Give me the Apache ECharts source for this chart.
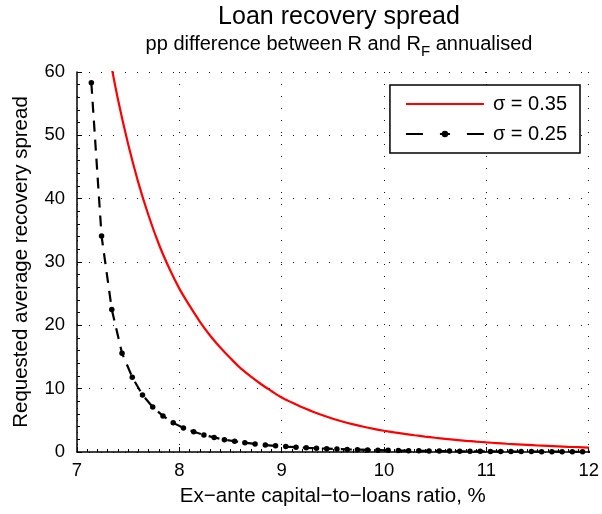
<!DOCTYPE html>
<html>
<head>
<meta charset="utf-8">
<script src="https://cdn.jsdelivr.net/npm/echarts@6/dist/echarts.min.js"></script>
<style>html,body{margin:0;padding:0;background:#fff}#c{width:602px;height:514px}</style>
</head>
<body>
<div id="c"></div>
<script>
var titleText = 'Loan recovery spread';
var subtitleText = 'pp difference between R and R{sub|F} annualised';
var xAxisName = 'Ex\u2212ante capital\u2212to\u2212loans ratio, %';
var yAxisName = 'Requested average recovery spread';
var seriesNames = ['\u03c3 = 0.35', '\u03c3 = 0.25'];
var xTicks = [7, 8, 9, 10, 11, 12];
var yTicks = [0, 10, 20, 30, 40, 50, 60];

var redX = [7.3,7.4,7.5,7.6,7.7,7.8,7.9,8.0,8.1,8.2,8.3,8.4,8.5,8.6,8.7,8.8,8.9,9.0,9.1,9.2,9.3,9.4,9.5,9.6,9.7,9.8,9.9,10.0,10.1,10.2,10.3,10.4,10.5,10.6,10.7,10.8,10.9,11.0,11.1,11.2,11.3,11.4,11.5,11.6,11.7,11.8,11.9,12.0];
var redY = [64.0,55.7,48.6,42.5,37.3,32.8,29.05,25.8,23.1,20.6,18.4,16.5,14.8,13.2,11.9,10.7,9.63,8.6,7.8,7.05,6.4,5.8,5.26,4.78,4.36,3.98,3.65,3.36,3.10,2.86,2.64,2.43,2.25,2.08,1.92,1.77,1.64,1.52,1.41,1.30,1.21,1.12,1.03,0.96,0.89,0.82,0.76,0.70];

var blackX = [7.14,7.24,7.34,7.44,7.54,7.64,7.74,7.84,7.94,8.04,8.14,8.24,8.34,8.44,8.54,8.64,8.74,8.84,8.94,9.04,9.14,9.24,9.34,9.44,9.54,9.64,9.74,9.84,9.94,10.04,10.14,10.24,10.34,10.44,10.54,10.64,10.74,10.84,10.94,11.04,11.14,11.24,11.34,11.44,11.54,11.64,11.74,11.84,11.94,12.04];
var blackY = [58.3,34.1,22.5,15.6,11.8,9.0,7.1,5.7,4.6,3.8,3.2,2.7,2.3,1.95,1.7,1.45,1.27,1.1,0.97,0.85,0.75,0.66,0.58,0.52,0.46,0.41,0.37,0.33,0.29,0.26,0.23,0.21,0.19,0.17,0.15,0.14,0.12,0.11,0.10,0.09,0.08,0.075,0.07,0.06,0.055,0.05,0.045,0.04,0.037,0.033];

function pairs(xs, ys){ return xs.map(function(x,i){ return [x, ys[i]]; }); }

var FF = '"Liberation Sans", Arial, sans-serif';
var chart = echarts.init(document.getElementById('c'), null, {renderer: 'canvas'});
var gridLine = {show: true, lineStyle: {color: '#111', width: 1, type: [1, 11]}};
chart.setOption({
  animation: false,
  backgroundColor: '#fff',
  title: {
    text: titleText,
    subtext: subtitleText,
    left: 334, top: 3, textAlign: 'center', itemGap: 0, padding: [2, 5, 5, 5],
    textStyle: {fontFamily: FF, fontSize: 25, fontWeight: 'normal', color: '#000'},
    subtextStyle: {fontFamily: FF, fontSize: 20, color: '#000',
      rich: {sub: {fontFamily: FF, fontSize: 15, color: '#000', padding: [14, 0, 0, 0]}}}
  },
  legend: {
    right: 22, top: 85,
    orient: 'vertical',
    backgroundColor: '#fff',
    borderColor: '#000', borderWidth: 1.5, borderRadius: 0,
    padding: [9, 13, 9, 15],
    itemWidth: 78, itemHeight: 8, itemGap: 10,
    textStyle: {fontFamily: FF, fontSize: 20, color: '#000', padding: [0, 0, 0, 4]},
    data: [
      {name: seriesNames[0], itemStyle: {opacity: 0}},
      {name: seriesNames[1], lineStyle: {type: [17, 17, 10, 17]}}
    ]
  },
  grid: {left: 77, right: 11, top: 72, bottom: 62, containLabel: false},
  xAxis: {
    type: 'value', min: xTicks[0], max: xTicks[xTicks.length - 1], interval: 1,
    name: xAxisName, nameLocation: 'middle', nameGap: 34,
    nameTextStyle: {fontFamily: FF, fontSize: 20.5, color: '#000'},
    axisLine: {show: true, onZero: false, lineStyle: {color: '#000', width: 1.5}},
    axisTick: {show: true, inside: true, length: 5, lineStyle: {color: '#000'}},
    minorTick: {show: true, splitNumber: 10, length: 3, lineStyle: {color: '#000'}},
    axisLabel: {fontFamily: FF, fontSize: 18.5, color: '#000', margin: 9},
    splitLine: gridLine
  },
  yAxis: {
    type: 'value', min: yTicks[0], max: yTicks[yTicks.length - 1], interval: 10,
    name: yAxisName, nameLocation: 'middle', nameGap: 45,
    nameTextStyle: {fontFamily: FF, fontSize: 20.5, color: '#000'},
    axisLine: {show: true, lineStyle: {color: '#000', width: 1.5}},
    axisTick: {show: true, inside: true, length: 5, lineStyle: {color: '#000'}},
    minorTick: {show: true, splitNumber: 5, length: 3, lineStyle: {color: '#000'}},
    axisLabel: {fontFamily: FF, fontSize: 18.5, color: '#000', margin: 12},
    splitLine: gridLine
  },
  series: [
    {
      name: seriesNames[0], type: 'line', data: pairs(redX, redY),
      smooth: 0.3, showSymbol: false, symbol: 'none', clip: true,
      lineStyle: {color: '#ff0000', width: 2.2},
      itemStyle: {color: '#ff0000'}
    },
    {
      name: seriesNames[1], type: 'line', data: pairs(blackX, blackY),
      smooth: false, symbol: 'circle', symbolSize: 5.5, showSymbol: true, clip: true,
      lineStyle: {color: '#000', width: 2.2, type: [11, 8]},
      itemStyle: {color: '#000'}
    }
  ]
});
</script>
</body>
</html>
